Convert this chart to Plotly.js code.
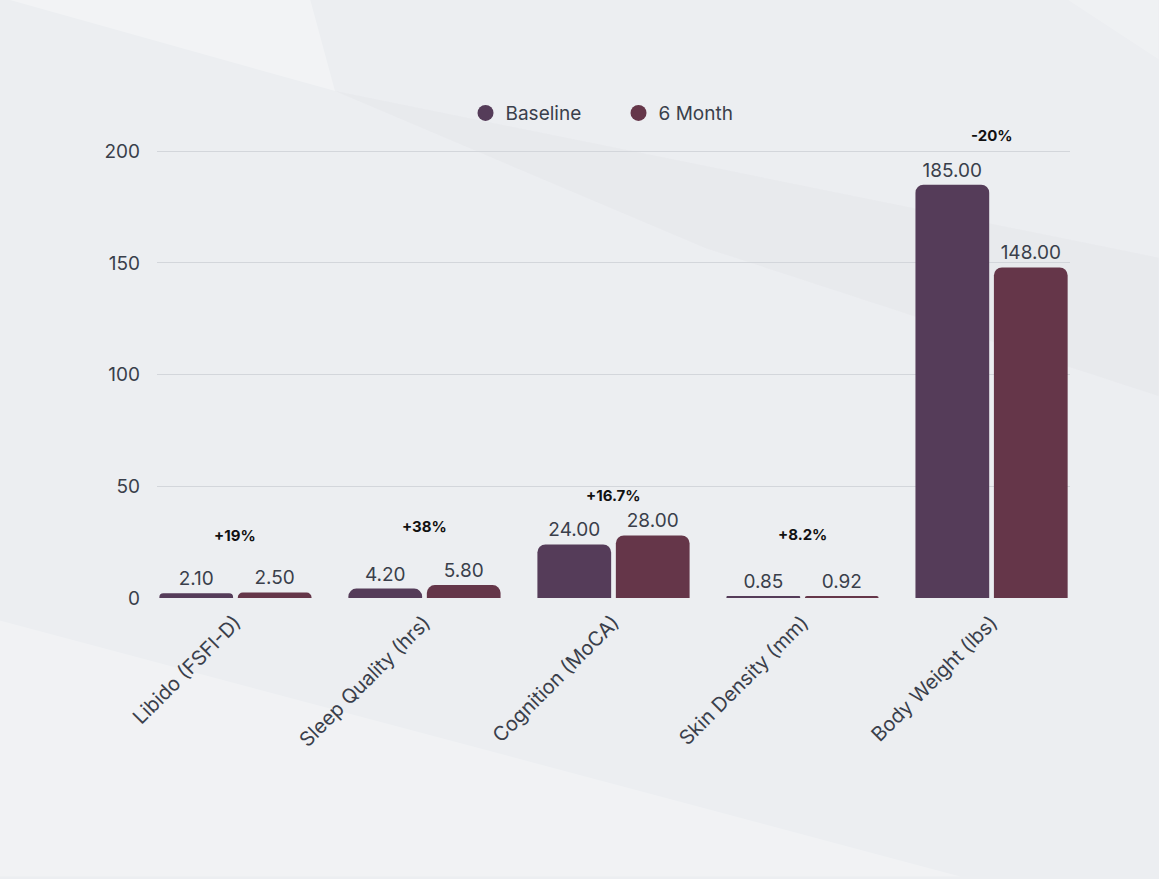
<!DOCTYPE html>
<html>
<head>
<meta charset="utf-8">
<script src="https://cdn.plot.ly/plotly-3.0.1.min.js"></script>
<style>html,body{margin:0;padding:0;background:#ffffff;}#chart{width:1159px;height:879px;}</style>
</head>
<body>
<div id="chart"></div>
<script>
const categories = ["Libido (FSFI-D)", "Sleep Quality (hrs)", "Cognition (MoCA)", "Skin Density (mm)", "Body Weight (lbs)"];
const baseline = [2.10, 4.20, 24.00, 0.85, 185.00];
const sixMonth = [2.50, 5.80, 28.00, 0.92, 148.00];
const changeLabels = ["+19%", "+38%", "+16.7%", "+8.2%", "-20%"];
const seriesNames = ["Baseline", "6 Month"];
const yTicks = [0, 50, 100, 150, 200];

// pixel offsets of the change labels above the taller bar (layout only)
const labelShift = [57, 59, 40, 61, 49];

const colBase = "#553c59";
const colSix = "#653649";
const fontFam = "Inter, 'Open Sans', sans-serif";

const traces = [
  {type: "bar", name: seriesNames[0], x: categories, y: baseline, marker: {color: colBase, cornerradius: 8},
   texttemplate: "%{y:.2f}", textposition: "outside", cliponaxis: false, showlegend: false,
   textfont: {family: fontFam, size: 19, color: "#3a3f4b"}},
  {type: "bar", name: seriesNames[1], x: categories, y: sixMonth, marker: {color: colSix, cornerradius: 8},
   texttemplate: "%{y:.2f}", textposition: "outside", cliponaxis: false, showlegend: false,
   textfont: {family: fontFam, size: 19, color: "#3a3f4b"}},
  {type: "scatter", mode: "markers", name: seriesNames[0], x: [null], y: [null], marker: {color: colBase, size: 19, symbol: "circle"}},
  {type: "scatter", mode: "markers", name: seriesNames[1], x: [null], y: [null], marker: {color: colSix, size: 19, symbol: "circle"}}
];

const annotations = categories.map((c, i) => ({
  x: c, y: Math.max(baseline[i], sixMonth[i]), xref: "x", yref: "y",
  text: "<b>" + changeLabels[i] + "</b>", showarrow: false, yshift: labelShift[i],
  yanchor: "middle", font: {family: fontFam, size: 15, color: "#111111"}
}));

const layout = {
  width: 1159, height: 879,
  margin: {l: 157, r: 89, t: 149, b: 281},
  paper_bgcolor: "#eceef1",
  plot_bgcolor: "rgba(0,0,0,0)",
  font: {family: fontFam, color: "#3a3f4b"},
  barmode: "group",
  bargap: 0.17,
  bargroupgap: 0.06,
  xaxis: {
    type: "category", range: [-0.415, 4.415], tickangle: -45,
    tickfont: {family: fontFam, size: 20, color: "#3a3f4b"},
    showgrid: false, zeroline: false, showline: false, ticks: "", ticklabelstandoff: 8, fixedrange: true
  },
  yaxis: {
    range: [0, 201], tickvals: yTicks, ticktext: yTicks.map(String),
    tickfont: {family: fontFam, size: 19, color: "#3a3f4b"},
    showgrid: true, gridcolor: "#d3d6db", gridwidth: 1,
    zeroline: false, showline: false, ticks: "", ticklabelstandoff: 16, fixedrange: true
  },
  legend: {
    orientation: "h", x: 0.5055, xanchor: "center", y: 1.08, yanchor: "middle",
    font: {family: fontFam, size: 19, color: "#3a3f4b"},
    bgcolor: "rgba(0,0,0,0)", itemwidth: 30, entrywidth: 108, traceorder: "normal"
  },
  annotations: annotations,
  shapes: [
    {type: "path", xref: "paper", yref: "paper", layer: "below", line: {width: 0}, fillcolor: "rgba(255,255,255,0.3)",
     path: "M -0.172 1.338 L 0.195 1.129 L 0.124 1.662 L -0.172 1.662 Z"},
    {type: "path", xref: "paper", yref: "paper", layer: "below", line: {width: 0}, fillcolor: "rgba(215,218,224,0.18)",
     path: "M 0.195 1.129 L 1.097 0.758 L 1.097 0.45 L 0.6 0.78 Z"},
    {type: "path", xref: "paper", yref: "paper", layer: "below", line: {width: 0}, fillcolor: "rgba(255,255,255,0.25)",
     path: "M -0.172 -0.05 L 0.88 -0.62 L -0.172 -0.62 Z"},
    {type: "path", xref: "paper", yref: "paper", layer: "below", line: {width: 0}, fillcolor: "rgba(255,255,255,0.2)",
     path: "M 0.75 1.662 L 1.097 1.2 L 1.097 1.662 Z"}
  ]
};

Plotly.newPlot("chart", traces, layout, {displayModeBar: false, staticPlot: true});
</script>
</body>
</html>
